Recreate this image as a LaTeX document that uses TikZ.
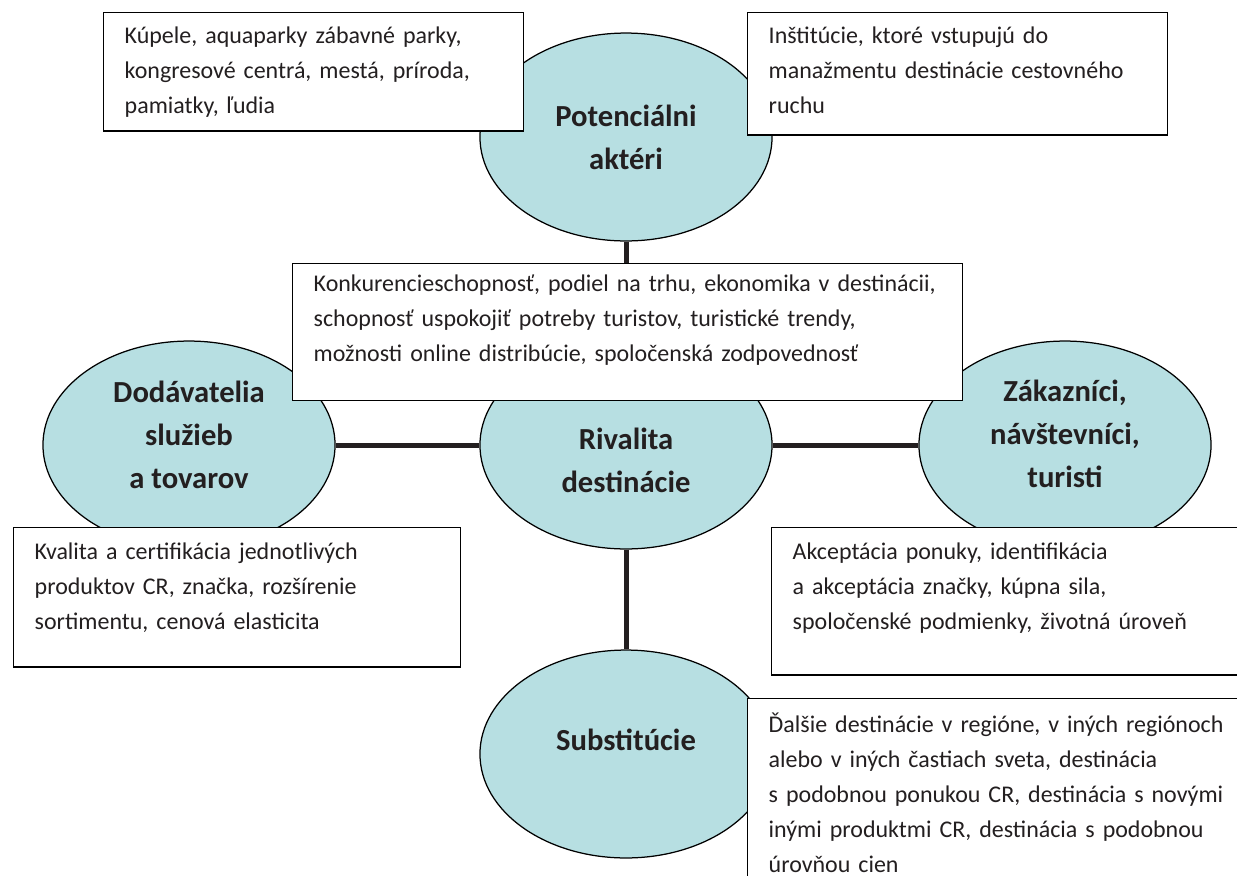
\documentclass[tikz,border=0pt]{standalone}
\usepackage{fontspec}
\setmainfont{Carlito}
\usetikzlibrary{shapes.geometric}
\definecolor{ovalfill}{RGB}{183,223,226}
\definecolor{inkgray}{RGB}{35,31,32}
\tikzset{
  oval/.style={ellipse, draw=black, line width=0.6pt, fill=ovalfill,
    minimum width=140.2pt, minimum height=99.8pt, inner sep=0pt},
  ovaltext/.style={font=\fontsize{14.7}{20.6}\selectfont\bfseries, align=center, text=inkgray},
  note/.style={draw=black, line width=0.7pt, fill=white, anchor=north west, align=left,
    inner xsep=10.08pt, inner ysep=0pt, font=\fontsize{11.5}{16.8}\selectfont, text=inkgray},
  link/.style={line width=2.4pt, draw=inkgray}
}
\begin{document}
\begin{tikzpicture}[x=0.48pt,y=-0.48pt]
\useasboundingbox (0,0) rectangle (1237,875);

% ovals
\node[oval] (pot) at (626,137) {};
\node[oval] (dod) at (189,445) {};
\node[oval] (rival) at (626,445) {};
\node[oval] (zak) at (1065,445) {};
\node[oval] (sub) at (626,754) {};

\node[ovaltext] (pot-t) at (626,137) {Potenciálni\\aktéri};
\node[ovaltext] (dod-t) at (189,435) {Dodávatelia\\služieb\\a tovarov};
\node[ovaltext] (rival-t) at (626,460) {Rivalita\\destinácie};
\node[ovaltext] (zak-t) at (1065,434) {Zákazníci,\\návštevníci,\\turisti};
\node[ovaltext] (sub-t) at (626,740) {Substitúcie};

% boxes
\node[note, text width=181.4pt, text height=14.9pt, text depth=41.8pt] (kup) at (103,12)
  {Kúpele, aquaparky zábavné parky,\\kongresové centrá, mestá, príroda,\\pamiatky, ľudia};
\node[note, text width=181.4pt, text height=14.9pt, text depth=43.7pt] (inst) at (747,12)
  {Inštitúcie, ktoré vstupujú do\\manažmentu destinácie cestovného\\ruchu};
\node[note, text width=301.4pt, text height=13.4pt, text depth=52.3pt] (konk) at (292,263)
  {Konkurencieschopnosť, podiel na trhu, ekonomika v destinácii,\\schopnosť uspokojiť potreby turistov, turistické trendy,\\možnosti online distribúcie, spoločenská zodpovednosť};
\node[note, text width=194.4pt, text height=15.4pt, text depth=51.4pt] (kval) at (13,527)
  {Kvalita a certifikácia jednotlivých\\produktov CR, značka, rozšírenie\\sortimentu, cenová elasticita};
\node[note, text width=207.4pt, text height=15.4pt, text depth=55.2pt] (akc) at (771,527)
  {Akceptácia ponuky, identifikácia\\a akceptácia značky, kúpna sila,\\spoločenské podmienky, životná úroveň};
\node[note, text width=219.8pt, text height=16.4pt, text depth=79.2pt] (dal) at (747,698)
  {Ďalšie destinácie v regióne, v iných regiónoch\\alebo v iných častiach sveta, destinácia\\s podobnou ponukou CR, destinácia s novými\\inými produktmi CR, destinácia s podobnou\\úrovňou cien};

% links
\draw[link] (pot.south) -- (pot.south |- konk.north);
\draw[link] (dod.east) -- (rival.west);
\draw[link] (rival.east) -- (zak.west);
\draw[link] (rival.south) -- (sub.north);
\end{tikzpicture}
\end{document}
